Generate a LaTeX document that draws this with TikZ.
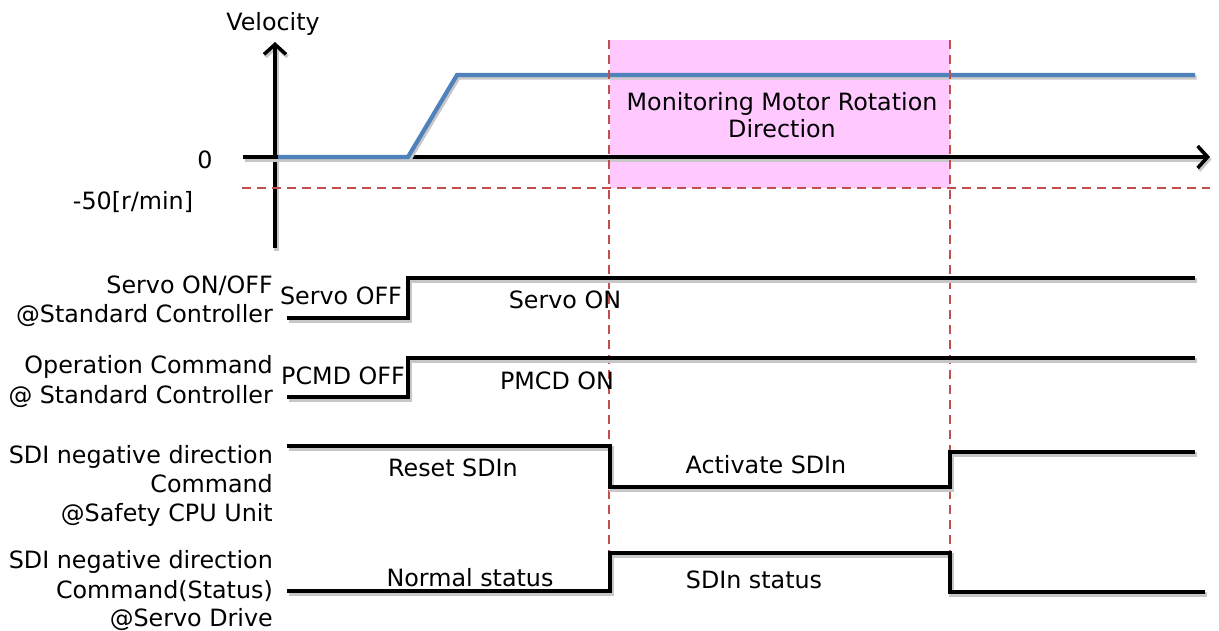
\documentclass[tikz,border=0pt]{standalone}
\usepackage{fontspec}
\setmainfont{DejaVu Sans}
\usetikzlibrary{arrows.meta}
\definecolor{monpink}{HTML}{FFC8FF}
\definecolor{velblue}{HTML}{4F81BD}
\definecolor{dashred}{HTML}{C0504D}
\tikzset{
  shade/.style={preaction={draw=black!22, line width=4.2pt, transform canvas={shift={(1.5pt,-2.5pt)}}}},
  sig/.style={shade, line width=4.2pt, black, line join=miter},
  axisline/.style={line width=4.2pt, black, -{Straight Barb[length=10pt,width=22pt,line width=3.5pt]}},
  vel/.style={shade, line width=4.2pt, velblue},
  guide/.style={line width=1.6pt, dashred, dash pattern=on 9pt off 6pt},
  lbl/.style={anchor=base east, inner sep=0pt},
  txt/.style={anchor=base, inner sep=0pt},
}
\begin{document}
\begin{tikzpicture}[x=1pt,y=-1pt,font=\fontsize{23.8}{29}\selectfont]
\useasboundingbox (0,0) rectangle (1219,630);
% monitoring window
\fill[monpink] (610,40) rectangle (950,188);
% axes
\coordinate (yb) at (275,248);
\coordinate (yt) at (275,42);
\coordinate (xl) at (243,157);
\coordinate (xr) at (1210,157);
\draw[axisline, shade] (yb) -- (yt);
\draw[axisline, shade] (xl) -- (xr);
% velocity profile
\coordinate (v0) at (278,157);
\coordinate (v1) at (408,157);
\coordinate (v2) at (457,75);
\coordinate (v3) at (1195,75);
\draw[vel] (v0) -- (v1) -- (v2) -- (v3);
% guides
\coordinate (hl) at (242,188);
\coordinate (hr) at (1210,188);
\draw[guide] (hl) -- (hr);
\coordinate (g1t) at (609,40);
\coordinate (g1b) at (609,553);
\coordinate (g2t) at (950,40);
\coordinate (g2b) at (950,553);
\draw[guide] (g1t) -- (g1b);
\draw[guide] (g2t) -- (g2b);
% texts top
\node[txt] (velo) at (273,30) {Velocity};
\node[txt] (zero) at (205,168) {0};
\node[txt] (m50) at (133,209) {-50[r/min]};
\node[txt] (mon1) at (782,110) {Monitoring Motor Rotation};
\node[txt] (mon2) at (782,137) {Direction};
% Servo ON/OFF
\draw[sig] (287,318) -- (408,318) -- (408,278) -- (1195,278);
\node[lbl] (s1a) at (273,293) {Servo ON/OFF};
\node[lbl] (s1b) at (273,322) {@Standard Controller};
\node[txt] (s1off) at (341,304) {Servo OFF};
\node[txt] (s1on) at (565,308) {Servo ON};
% Operation command
\draw[sig] (287,397) -- (408,397) -- (408,358) -- (1195,358);
\node[lbl] (s2a) at (273,373) {Operation Command};
\node[lbl] (s2b) at (273,403) {@ Standard Controller};
\node[txt] (s2off) at (343,384) {PCMD OFF};
\node[txt] (s2on) at (557,389) {PMCD ON};
% SDI command
\draw[sig] (287,446) -- (610,446) -- (610,487) -- (950,487) -- (950,452) -- (1195,452);
\node[lbl] (s3a) at (273,463) {SDI negative direction};
\node[lbl] (s3b) at (273,492) {Command};
\node[lbl] (s3c) at (273,521) {@Safety CPU Unit};
\node[txt] (s3r) at (453,476) {Reset SDIn};
\node[txt] (s3act) at (766,473) {Activate SDIn};
% SDI status
\draw[sig] (287,591) -- (610,591) -- (610,553) -- (950,553) -- (950,592) -- (1205,592);
\node[lbl] (s4a) at (273,568) {SDI negative direction};
\node[lbl] (s4b) at (273,598) {Command(Status)};
\node[lbl] (s4c) at (273,626) {@Servo Drive};
\node[txt] (s4n) at (470,586) {Normal status};
\node[txt] (s4s) at (754,588) {SDIn status};
\end{tikzpicture}
\end{document}
